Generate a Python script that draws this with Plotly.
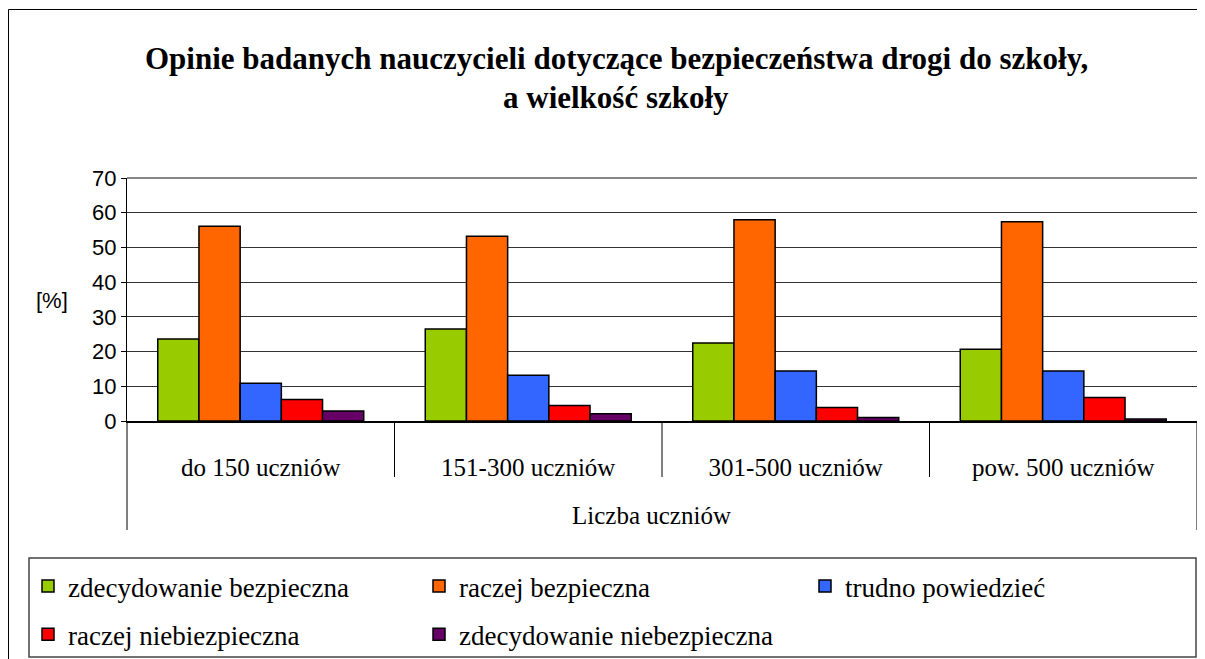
import plotly.graph_objects as go

categories = ["do 150 uczniów", "151-300 uczniów", "301-500 uczniów", "pow. 500 uczniów"]
series_names = ["zdecydowanie bezpieczna", "raczej bezpieczna", "trudno powiedzieć",
                "raczej niebiezpieczna", "zdecydowanie niebezpieczna"]
zdecydowanie_bezpieczna = [23.6, 26.5, 22.5, 20.7]
raczej_bezpieczna = [56.1, 53.2, 58.0, 57.4]
trudno_powiedziec = [10.9, 13.2, 14.4, 14.4]
raczej_niebezpieczna = [6.2, 4.5, 3.9, 6.8]
zdecydowanie_niebezpieczna = [2.9, 2.1, 1.0, 0.6]
values = [zdecydowanie_bezpieczna, raczej_bezpieczna, trudno_powiedziec,
          raczej_niebezpieczna, zdecydowanie_niebezpieczna]
colors = ["#99CC00", "#FF6600", "#3366FF", "#FF0000", "#660066"]
legend_ids = ["legend", "legend2", "legend3", "legend", "legend2"]
y_ticks = [0, 10, 20, 30, 40, 50, 60, 70]

# page has an 8px body margin: figure is shifted by OFF px; reference coords are screen coords
OFF = 8
W, H = 1205 - OFF, 659 - OFF
L, R, T, B = 127 - OFF, 1197 - OFF, 178 - OFF, 421 - OFF  # plot area in figure pixels


def px(x):
    return (x - OFF - L) / (R - L)


def py(y):
    return (B - (y - OFF)) / (B - T)


fig = go.Figure()
for name, vals, col, lg in zip(series_names, values, colors, legend_ids):
    fig.add_trace(go.Bar(
        x=categories, y=vals, name=name, marker=dict(color=col, line=dict(color="black", width=1.5)),
        legend=lg, legendgroup=name,
    ))

serif = "Liberation Serif"
sans = "Liberation Sans"

shapes = []
# outer chart border
shapes.append(dict(type="rect", xref="paper", yref="paper", x0=px(8.5), x1=px(1230), y0=py(9.5), y1=py(700),
                   line=dict(color="black", width=1), layer="below"))
# legend box
shapes.append(dict(type="rect", xref="paper", yref="paper", x0=px(29), x1=px(1196), y0=py(558), y1=py(657),
                   line=dict(color="#444444", width=1.5), fillcolor="white", layer="below"))
# plot top border
shapes.append(dict(type="line", xref="paper", yref="paper", x0=0, x1=1, y0=1, y1=1,
                   line=dict(color="#888888", width=2)))
# category divider lines
for i in range(len(categories) - 1):
    shapes.append(dict(type="line", xref="x", yref="paper", x0=i + 0.5, x1=i + 0.5, y0=0, y1=py(477),
                       line=dict(color="black", width=1)))
for xx in (0, 1):
    shapes.append(dict(type="line", xref="paper", yref="paper", x0=xx, x1=xx, y0=0, y1=py(530),
                       line=dict(color="black", width=1)))

annotations = [
    dict(text="<b>Opinie badanych nauczycieli dotyczące bezpieczeństwa drogi do szkoły,</b>",
         xref="paper", yref="paper", x=px(616), y=py(58), showarrow=False,
         font=dict(family=serif, size=31, color="black"), xanchor="center", yanchor="middle"),
    dict(text="<b>a wielkość szkoły</b>",
         xref="paper", yref="paper", x=px(616), y=py(98), showarrow=False,
         font=dict(family=serif, size=31, color="black"), xanchor="center", yanchor="middle"),
    dict(text="[%]", xref="paper", yref="paper", x=px(52), y=py(300), showarrow=False,
         font=dict(family=sans, size=22, color="black"), xanchor="center", yanchor="middle"),
    dict(text="Liczba uczniów", xref="paper", yref="paper", x=px(651), y=py(515), showarrow=False,
         font=dict(family=serif, size=25, color="black"), xanchor="center", yanchor="middle"),
]

legend_common = dict(bgcolor="rgba(0,0,0,0)", borderwidth=0, font=dict(family=serif, size=27, color="black"),
                     orientation="v", tracegroupgap=10, xanchor="left", yanchor="top", xref="paper", yref="paper")

fig.update_layout(
    width=W, height=H,
    margin=dict(l=L, r=W - R, t=T, b=H - B, pad=0, autoexpand=False),
    paper_bgcolor="white", plot_bgcolor="white",
    barmode="group", bargap=0.23, bargroupgap=0,
    showlegend=True,
    legend=dict(x=px(28), y=py(562), **legend_common),
    legend2=dict(x=px(419), y=py(562), **legend_common),
    legend3=dict(x=px(805), y=py(562), **legend_common),
    xaxis=dict(showgrid=False, showline=True, linecolor="black", linewidth=1.5, ticks="",
               tickfont=dict(family=serif, size=25, color="black"), ticklabelstandoff=23,
               range=[-0.5, len(categories) - 0.5]),
    yaxis=dict(range=[0, 70], tickvals=y_ticks, showgrid=True, gridcolor="#333333", gridwidth=1,
               showline=True, linecolor="black", linewidth=1, ticks="outside", ticklen=5,
               tickcolor="black", tickfont=dict(family=sans, size=22, color="black"), zeroline=False),
    shapes=shapes, annotations=annotations,
)

fig.write_html("out.html")
